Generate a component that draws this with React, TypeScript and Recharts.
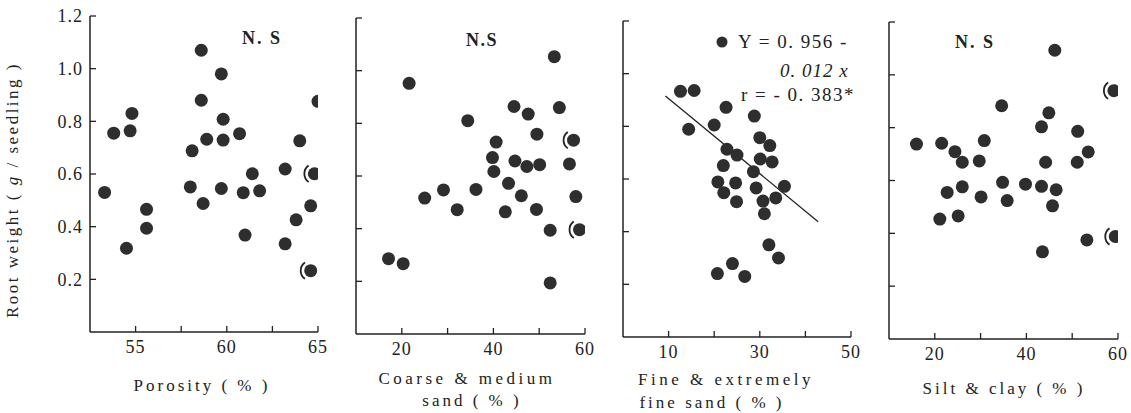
import React from "react"
import {
  ScatterChart,
  Scatter,
  XAxis,
  YAxis,
  ReferenceLine,
} from "recharts"

// root weight (g/seedling) against four soil properties
const porosity = [53.3, 53.8, 54.8, 54.7, 54.5, 55.6, 55.6, 58.6, 58.6, 58.1, 58.9, 58.0, 58.7, 59.7, 59.8, 59.8, 59.7, 60.7, 61.4, 60.9, 61.8, 61.0, 63.2, 64.0, 65.0, 64.8, 64.6, 63.8, 63.2, 64.6]
const porosityWeight = [0.53, 0.755, 0.83, 0.764, 0.318, 0.466, 0.394, 1.07, 0.88, 0.688, 0.732, 0.551, 0.488, 0.98, 0.808, 0.729, 0.545, 0.753, 0.601, 0.529, 0.536, 0.368, 0.619, 0.726, 0.876, 0.601, 0.479, 0.426, 0.335, 0.233]
const porosityCircled = [25, 29]

const coarseSand = [53.3, 21.6, 44.5, 47.6, 54.4, 34.4, 49.5, 40.6, 57.5, 39.8, 44.7, 47.3, 50.1, 56.6, 40.1, 43.3, 36.2, 29.1, 25.0, 46.1, 58.0, 32.1, 42.6, 49.4, 52.4, 58.8, 17.1, 20.3, 52.4]
const coarseWeight = [1.053, 0.952, 0.864, 0.835, 0.86, 0.81, 0.759, 0.729, 0.736, 0.67, 0.657, 0.636, 0.643, 0.646, 0.617, 0.572, 0.549, 0.547, 0.516, 0.525, 0.522, 0.472, 0.464, 0.473, 0.394, 0.396, 0.286, 0.267, 0.194]
const coarseCircled = [8, 25]

const fineSand = [12.6, 15.6, 22.6, 14.4, 20.0, 28.8, 30.0, 32.2, 22.8, 25.0, 30.1, 32.7, 22.0, 28.6, 20.8, 24.7, 35.4, 29.2, 22.1, 30.7, 33.5, 24.9, 31.0, 32.0, 34.1, 24.0, 20.7, 26.7]
const fineWeight = [0.933, 0.936, 0.872, 0.789, 0.805, 0.839, 0.757, 0.727, 0.713, 0.691, 0.676, 0.665, 0.651, 0.628, 0.589, 0.585, 0.572, 0.566, 0.548, 0.516, 0.528, 0.514, 0.468, 0.35, 0.3, 0.279, 0.241, 0.23]
const fineFitX = [9.3, 42.8]
const fineFitY = [0.915, 0.438]

const siltClay = [46.2, 59.1, 34.6, 44.9, 43.3, 51.2, 16.0, 21.5, 30.8, 24.4, 53.5, 26.0, 29.7, 44.2, 51.1, 34.8, 39.8, 43.3, 26.0, 46.5, 22.7, 30.1, 35.8, 45.7, 21.1, 25.1, 59.4, 53.2, 43.5]
const siltWeight = [1.093, 0.94, 0.883, 0.856, 0.803, 0.786, 0.738, 0.741, 0.751, 0.709, 0.708, 0.669, 0.674, 0.669, 0.669, 0.593, 0.586, 0.578, 0.576, 0.565, 0.555, 0.538, 0.524, 0.504, 0.454, 0.466, 0.388, 0.375, 0.33]
const siltCircled = [1, 26]

const weightTicks = [0.2, 0.4, 0.6, 0.8, 1.0, 1.2]

const porosityTicks = [55, 57.5, 60, 62.5, 65]
const porosityLabels = [55, 60, 65]
const coarseTicks = [20, 30, 40, 50, 60]
const coarseLabels = [20, 40, 60]
const fineTicks = [10, 20, 30, 40, 50]
const fineLabels = [10, 30, 50]
const siltTicks = [20, 30, 40, 50, 60]
const siltLabels = [20, 40, 60]

const W = 1131
const H = 413
const INK = "#222"
const FONT = "'Liberation Serif', 'DejaVu Serif', serif"

function toPoints(xs: number[], ys: number[], circled: number[] = []) {
  return xs.map((x, i) => ({ x, y: ys[i], circled: circled.includes(i) }))
}

function Dot(props: any) {
  const { cx, cy, payload } = props
  if (cx == null || cy == null) return <g />
  const r = 10
  const dx = r * Math.cos((55 * Math.PI) / 180)
  const dy = r * Math.sin((55 * Math.PI) / 180)
  return (
    <g>
      <circle cx={cx} cy={cy} r={6.5} fill="#2e2e2e" />
      {payload && payload.circled ? (
        <path
          d={`M${cx - dx},${cy - dy} A${r},${r} 0 0 0 ${cx - dx},${cy + dy}`}
          fill="none"
          stroke={INK}
          strokeWidth={1.8}
        />
      ) : null}
    </g>
  )
}

interface PanelProps {
  data: { x: number; y: number; circled: boolean }[]
  domain: [number, number]
  ticks: number[]
  labels: number[]
  // pixel box of the axes: left/right x and top/bottom y
  box: [number, number, number, number]
  showY?: boolean
  fit?: { x: number; y: number }[]
}

function Panel({ data, domain, ticks, labels, box, showY, fit }: PanelProps) {
  const [x0, x1, y0, y1] = box
  // axes take 1px each, so the plot starts right after them
  const margin = { left: x0 - 1, right: W - x1, top: y0, bottom: H - y1 - 1 }
  return (
    <div style={{ position: "absolute", left: 0, top: 0 }}>
      <ScatterChart width={W} height={H} margin={margin}>
        <XAxis
          type="number"
          dataKey="x"
          domain={domain}
          ticks={ticks}
          allowDataOverflow
          height={1}
          tickSize={-6}
          tickMargin={14}
          tickFormatter={(v: number) => (labels.includes(v) ? String(v) : "")}
          axisLine={{ stroke: INK, strokeWidth: 1.5 }}
          tickLine={{ stroke: INK, strokeWidth: 1.3 }}
          tick={{ fill: INK, fontSize: 18, fontFamily: FONT, letterSpacing: 1 }}
        />
        <YAxis
          type="number"
          dataKey="y"
          domain={[0, 1.2]}
          ticks={weightTicks}
          allowDataOverflow
          width={1}
          tickSize={-6}
          tickMargin={13}
          tickFormatter={(v: number) => (showY ? v.toFixed(1) : "")}
          axisLine={{ stroke: INK, strokeWidth: 1.5 }}
          tickLine={{ stroke: INK, strokeWidth: 1.3 }}
          tick={{ fill: INK, fontSize: 18, fontFamily: FONT, letterSpacing: 1 }}
        />
        {fit ? (
          <ReferenceLine
            segment={fit}
            stroke={INK}
            strokeWidth={1.3}
            ifOverflow="visible"
          />
        ) : null}
        <Scatter data={data} shape={Dot} isAnimationActive={false} />
      </ScatterChart>
    </div>
  )
}

export default function App() {
  const fit = fineFitX.map((x, i) => ({ x, y: fineFitY[i] }))
  const txt = { fontFamily: FONT, fill: INK }
  return (
    <div style={{ position: "absolute", left: 0, top: 0, width: W, height: H, background: "#fff" }}>
      <Panel
        data={toPoints(porosity, porosityWeight, porosityCircled)}
        domain={[52.5, 65]}
        ticks={porosityTicks}
        labels={porosityLabels}
        box={[90, 318, 16, 332]}
        showY
      />
      <Panel
        data={toPoints(coarseSand, coarseWeight, coarseCircled)}
        domain={[10, 60]}
        ticks={coarseTicks}
        labels={coarseLabels}
        box={[356, 585, 18, 334]}
      />
      <Panel
        data={toPoints(fineSand, fineWeight)}
        domain={[0, 50]}
        ticks={fineTicks}
        labels={fineLabels}
        box={[623, 851, 21, 337]}
        fit={fit}
      />
      <Panel
        data={toPoints(siltClay, siltWeight, siltCircled)}
        domain={[10, 60]}
        ticks={siltTicks}
        labels={siltLabels}
        box={[889, 1118, 22, 339]}
      />
      <svg
        width={W}
        height={H}
        style={{ position: "absolute", left: 0, top: 0, pointerEvents: "none" }}
      >
        <text
          {...txt}
          fontSize={17}
          letterSpacing={2.5}
          textAnchor="middle"
          transform="translate(18,190) rotate(-90)"
        >
          Root weight ( <tspan fontStyle="italic">g</tspan> / seedling )
        </text>

        <text {...txt} fontSize={18} fontWeight="bold" letterSpacing={2} x={242} y={44}>N. S</text>
        <text {...txt} fontSize={18} fontWeight="bold" letterSpacing={1.5} x={466} y={46}>N.S</text>
        <text {...txt} fontSize={18} fontWeight="bold" letterSpacing={2} x={955} y={48}>N. S</text>

        <circle cx={722} cy={42} r={5.5} fill="#2e2e2e" />
        <text {...txt} fontSize={19} letterSpacing={1.5} x={738} y={48}>Y = 0. 956 -</text>
        <text {...txt} fontSize={19} letterSpacing={1} fontStyle="italic" x={780} y={77}>0. 012 x</text>
        <text {...txt} fontSize={19} letterSpacing={1.5} x={741} y={101}>r = - 0. 383*</text>

        <text {...txt} fontSize={17} letterSpacing={3} textAnchor="middle" x={202} y={391}>
          Porosity ( % )
        </text>
        <text {...txt} fontSize={17} letterSpacing={3.5} textAnchor="middle" x={467} y={384}>
          Coarse &amp; medium
        </text>
        <text {...txt} fontSize={17} letterSpacing={3} textAnchor="middle" x={472} y={406}>
          sand ( % )
        </text>
        <text {...txt} fontSize={17} letterSpacing={3.5} textAnchor="middle" x={726} y={385}>
          Fine &amp; extremely
        </text>
        <text {...txt} fontSize={17} letterSpacing={3} textAnchor="middle" x={712} y={408}>
          fine  sand ( % )
        </text>
        <text {...txt} fontSize={17} letterSpacing={3} textAnchor="middle" x={1004} y={394}>
          Silt &amp; clay ( % )
        </text>
      </svg>
    </div>
  )
}
